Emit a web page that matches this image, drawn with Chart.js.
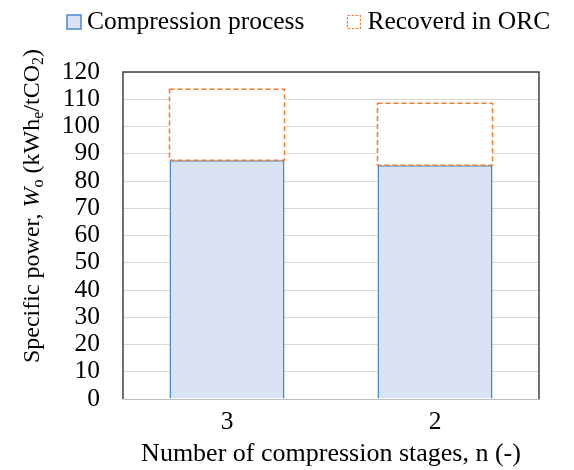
<!DOCTYPE html>
<html>
<head>
<meta charset="utf-8">
<script src="https://cdn.jsdelivr.net/npm/chart.js@4/dist/chart.umd.min.js"></script>
<style>
  body { margin: 0; background: #fff; }
  #wrap { width: 574px; height: 470px; }
</style>
</head>
<body>
<div id="wrap"><canvas id="chart" width="574" height="470"></canvas></div>
<script>
// data
const stages = ['3', '2'];
const compression = [87.6, 85.8];   // Compression process
const recovered = [26.1, 22.7];     // Recoverd in ORC (stacked on top)
const yMin = 0;
const yMax = 120;
const yStep = 10;

const seriesNames = ['Compression process', 'Recoverd in ORC'];
const xTitle = 'Number of compression stages, n (-)';

const serif = '"Liberation Serif", "Times New Roman", serif';
const blueFill = '#DAE3F3';
const blueLine = '#4A86C8';
const orange = '#ED7D31';

// dashed outline for the ORC part (bar elements have no border dash)
const dashedBars = {
  id: 'dashedBars',
  afterDatasetsDraw(chart) {
    const ctx = chart.ctx;
    const meta = chart.getDatasetMeta(1);
    ctx.save();
    ctx.strokeStyle = orange;
    ctx.lineWidth = 1.5;
    ctx.setLineDash([5, 3]);
    meta.data.forEach(bar => {
      const p = bar.getProps(['x', 'y', 'base', 'width'], true);
      ctx.strokeRect(p.x - p.width / 2, p.y, p.width, p.base - p.y);
    });
    ctx.restore();
  }
};

// plot frame + y title with italic / subscripts + legend
const decorations = {
  id: 'decorations',
  afterDraw(chart) {
    const ctx = chart.ctx;
    const a = chart.chartArea;
    ctx.save();
    ctx.strokeStyle = '#404040';
    ctx.lineWidth = 1.5;
    ctx.beginPath();
    ctx.moveTo(a.left, a.bottom);
    ctx.lineTo(a.left, a.top);
    ctx.lineTo(a.right, a.top);
    ctx.lineTo(a.right, a.bottom);
    ctx.stroke();
    ctx.restore();

    // y axis title
    const parts = [
      { t: 'Specific power, ', f: '24px ' + serif, dy: 0 },
      { t: 'W', f: 'italic 24px ' + serif, dy: 0 },
      { t: 'o', f: '16px ' + serif, dy: 4 },
      { t: ' (kWh', f: '24px ' + serif, dy: 0 },
      { t: 'e', f: '16px ' + serif, dy: 4 },
      { t: '/tCO', f: '24px ' + serif, dy: 0 },
      { t: '2', f: '16px ' + serif, dy: 4 },
      { t: ')', f: '24px ' + serif, dy: 0 }
    ];
    ctx.save();
    let total = 0;
    parts.forEach(p => { ctx.font = p.f; p.w = ctx.measureText(p.t).width; total += p.w; });
    ctx.translate(39, 206 + total / 2);
    ctx.rotate(-Math.PI / 2);
    ctx.fillStyle = '#000';
    ctx.textBaseline = 'alphabetic';
    let x = 0;
    parts.forEach(p => { ctx.font = p.f; ctx.fillText(p.t, x, p.dy); x += p.w; });
    ctx.restore();

    // legend
    ctx.save();
    ctx.font = '25.5px ' + serif;
    ctx.fillStyle = '#000';
    ctx.textBaseline = 'middle';
    const box = 14, by = 15, ty = 22;
    let lx = 67;
    ctx.fillStyle = blueFill;
    ctx.fillRect(lx, by, box, box);
    ctx.strokeStyle = blueLine;
    ctx.lineWidth = 1.5;
    ctx.strokeRect(lx, by, box, box);
    ctx.fillStyle = '#000';
    ctx.fillText(seriesNames[0], lx + 20, ty);
    lx = lx + 20 + ctx.measureText(seriesNames[0]).width + 43;
    ctx.strokeStyle = orange;
    ctx.lineWidth = 1.2;
    ctx.setLineDash([2.5, 1.5]);
    ctx.strokeRect(lx, by + 0.5, box - 1, box - 1);
    ctx.setLineDash([]);
    ctx.fillText(seriesNames[1], lx + 20, ty);
    ctx.restore();
  }
};

new Chart(document.getElementById('chart'), {
  type: 'bar',
  data: {
    labels: stages,
    datasets: [
      {
        label: seriesNames[0],
        data: compression,
        backgroundColor: blueFill,
        borderColor: blueLine,
        borderWidth: 1.5,
        borderSkipped: 'bottom'
      },
      {
        label: seriesNames[1],
        data: recovered,
        backgroundColor: '#ffffff',
        borderWidth: 0
      }
    ]
  },
  options: {
    responsive: false,
    animation: false,
    devicePixelRatio: 1,
    layout: { padding: { top: 72, right: 35, bottom: 0, left: 0 } },
    datasets: { bar: { categoryPercentage: 1, barPercentage: 0.553 } },
    plugins: {
      legend: { display: false },
      tooltip: { enabled: false }
    },
    scales: {
      x: {
        stacked: true,
        grid: { display: false, drawTicks: false },
        border: { display: true, color: '#BFBFBF', width: 1 },
        ticks: { color: '#000', font: { family: serif, size: 25.5 }, padding: 8 },
        title: {
          display: true,
          text: xTitle,
          color: '#000',
          font: { family: serif, size: 26 },
          padding: { top: 0, bottom: 0 }
        },
        afterFit(scale) { scale.height = 71; }
      },
      y: {
        stacked: true,
        min: yMin,
        max: yMax,
        grid: { color: '#D9D9D9', lineWidth: 1, drawTicks: false },
        border: { display: false },
        ticks: { stepSize: yStep, autoSkip: false, color: '#000', font: { family: serif, size: 25.5 }, padding: 23 },
        afterFit(scale) { scale.width = 123; }
      }
    }
  },
  plugins: [dashedBars, decorations]
});
</script>
</body>
</html>
